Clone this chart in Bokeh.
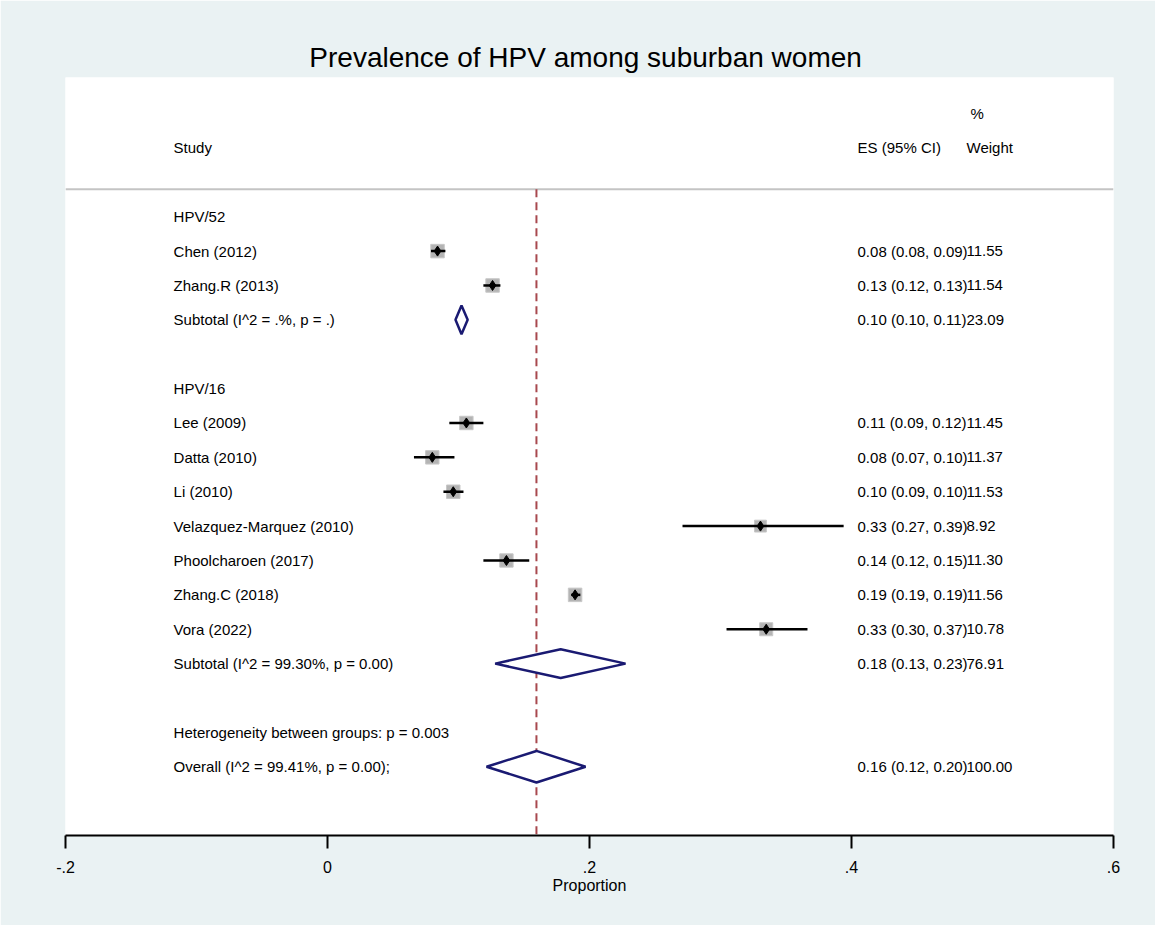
import math
from bokeh.plotting import figure
from bokeh.models import Range1d, FixedTicker
from bokeh.core.properties import value
from bokeh.embed import file_html
from bokeh.resources import INLINE

# ---------------- data ----------------
title_text = "Prevalence of  HPV among suburban women"
groups = ["HPV/52", "HPV/16"]

studies_52 = ["Chen (2012)", "Zhang.R (2013)"]
es_52 = [0.084, 0.126]
lo_52 = [0.079, 0.119]
hi_52 = [0.090, 0.132]
wt_52 = ["11.55", "11.54"]

studies_16 = ["Lee (2009)", "Datta (2010)", "Li (2010)", "Velazquez-Marquez (2010)",
              "Phoolcharoen (2017)", "Zhang.C (2018)", "Vora (2022)"]
es_16 = [0.106, 0.080, 0.096, 0.3305, 0.1366, 0.189, 0.3349]
lo_16 = [0.093, 0.066, 0.0885, 0.271, 0.119, 0.186, 0.3046]
hi_16 = [0.119, 0.0969, 0.1038, 0.394, 0.154, 0.193, 0.3664]
wt_16 = ["11.45", "11.37", "11.53", "8.92", "11.30", "11.56", "10.78"]

sub_labels = ["Subtotal  (I^2 = .%, p = .)", "Subtotal  (I^2 = 99.30%, p = 0.00)"]
sub_es = [0.1023, 0.178]
sub_lo = [0.0977, 0.128]
sub_hi = [0.107, 0.2275]
sub_wt = ["23.09", "76.91"]

het_label = "Heterogeneity between groups: p = 0.003"
overall_label = "Overall  (I^2 = 99.41%, p = 0.00);"
overall_es = 0.1595
overall_lo = 0.1214
overall_hi = 0.197
overall_wt = "100.00"

x_ticks = [-0.2, 0.0, 0.2, 0.4, 0.6]
x_tick_labels = ["-.2", "0", ".2", ".4", ".6"]

# ---------------- styling ----------------
FONT = value("Liberation Sans")
BG = "#EAF2F3"
NAVY = "#1a1a72"
MAROON = "#a8484e"

x_study = -0.1175
x_es = 0.4046
x_wt = 0.4878

p = figure(width=1155, height=925, output_backend="svg", toolbar_location=None,
           x_range=Range1d(-0.2, 0.6), y_range=Range1d(21, -1.05),
           min_border_left=65, min_border_right=42, min_border_top=77, min_border_bottom=90)
p.background_fill_color = "white"
p.border_fill_color = BG
p.outline_line_color = None
p.grid.visible = False
p.yaxis.visible = False

p.title.text = title_text
p.title.text_font = "Liberation Sans"
p.title.text_font_size = "28px"
p.title.text_font_style = "normal"
p.title.align = "center"
p.title.text_color = "black"

ax = p.xaxis[0]
ax.ticker = FixedTicker(ticks=x_ticks)
ax.major_label_overrides = {t: l for t, l in zip(x_ticks, x_tick_labels)}
ax.minor_tick_line_color = None
ax.major_tick_in = 0
ax.major_tick_out = 13
ax.major_tick_line_width = 2
ax.major_tick_line_color = "black"
ax.axis_line_width = 2
ax.axis_line_color = "black"
ax.major_label_text_font = "Liberation Sans"
ax.major_label_text_font_size = "16px"
ax.major_label_text_color = "black"
ax.major_label_standoff = 12
ax.axis_label = "Proportion"
ax.axis_label_text_font = "Liberation Sans"
ax.axis_label_text_font_size = "16px"
ax.axis_label_text_font_style = "normal"
ax.axis_label_text_color = "black"
ax.axis_label_standoff = 1

# ---------------- rows ----------------
row = 3
txt_x, txt_y, txt = [], [], []
es_txt_y, es_txt, wt_txt = [], [], []
st_rows, st_es, st_lo, st_hi, st_w = [], [], [], [], []
dia_xs, dia_ys = [], []


def fmt(e, l, h):
    return "%.2f (%.2f, %.2f)" % (e, l, h)


group_data = [
    (studies_52, es_52, lo_52, hi_52, wt_52),
    (studies_16, es_16, lo_16, hi_16, wt_16),
]
for gi, g in enumerate(groups):
    names, es, lo, hi, wt = group_data[gi]
    txt_x.append(x_study); txt_y.append(row); txt.append(g)
    row += 1
    for n, e, l, h, w in zip(names, es, lo, hi, wt):
        txt_x.append(x_study); txt_y.append(row); txt.append(n)
        es_txt_y.append(row); es_txt.append(fmt(e, l, h)); wt_txt.append(w)
        st_rows.append(row); st_es.append(e); st_lo.append(l); st_hi.append(h)
        st_w.append(float(w))
        row += 1
    txt_x.append(x_study); txt_y.append(row); txt.append(sub_labels[gi])
    es_txt_y.append(row); es_txt.append(fmt(sub_es[gi], sub_lo[gi], sub_hi[gi])); wt_txt.append(sub_wt[gi])
    hh = 0.42
    dia_xs.append([sub_lo[gi], sub_es[gi], sub_hi[gi], sub_es[gi]])
    dia_ys.append([row, row - hh, row, row + hh])
    row += 2

het_row = row
txt_x.append(x_study); txt_y.append(het_row); txt.append(het_label)
ov_row = het_row + 1
txt_x.append(x_study); txt_y.append(ov_row); txt.append(overall_label)
es_txt_y.append(ov_row); es_txt.append(fmt(overall_es, overall_lo, overall_hi)); wt_txt.append(overall_wt)
hh = 0.46
dia_xs.append([overall_lo, overall_es, overall_hi, overall_es])
dia_ys.append([ov_row, ov_row - hh, ov_row, ov_row + hh])

sep_row = 2.2

# separator line
p.segment(x0=[-0.2], y0=[sep_row], x1=[0.6], y1=[sep_row], line_color="#c4c4c4", line_width=2)
# overall dashed line
p.segment(x0=[overall_es], y0=[sep_row], x1=[overall_es], y1=[21], line_color=MAROON,
          line_width=2, line_dash="8 5")

# weight squares
sizes = [13.5 * math.sqrt(w / 11.55) for w in st_w]
p.scatter(x=st_es, y=st_rows, size=sizes, marker="square", fill_color="#b4b4b4", line_color="#c8c8c8",
          line_width=1)
# CI lines
p.segment(x0=st_lo, y0=st_rows, x1=st_hi, y1=st_rows, line_color="black", line_width=2.5)
# point estimates
p.scatter(x=st_es, y=st_rows, size=10, marker="diamond", fill_color="black", line_color="black")

# pooled diamonds
p.patches(xs=dia_xs, ys=dia_ys, fill_color="white", fill_alpha=1.0, line_color=NAVY, line_width=2.5)

# texts
p.text(x=txt_x, y=txt_y, text=txt, text_font=FONT, text_font_size="15px",
       text_baseline="middle", text_align="left", text_color="black")
p.text(x=[x_es] * len(es_txt), y=es_txt_y, text=es_txt, text_font=FONT, text_font_size="15px",
       text_baseline="middle", text_align="left", text_color="black")
p.text(x=[x_wt] * len(wt_txt), y=es_txt_y, text=wt_txt, text_font=FONT, text_font_size="15px",
       text_baseline="middle", text_align="left", text_color="black")

# headers
p.text(x=[x_study, x_es, x_wt, x_wt + 0.003], y=[1, 1, 1, 0], text=["Study", "ES (95% CI)", "Weight", "%"],
       text_font=FONT, text_font_size="15px", text_baseline="middle", text_align="left", text_color="black")

open("out.html", "w").write(file_html(p, INLINE))
